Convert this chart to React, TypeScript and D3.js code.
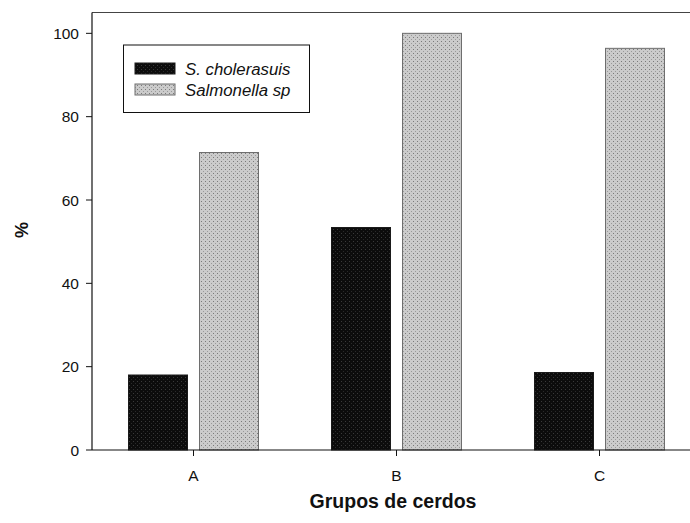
import React from "react";
import * as d3 from "d3";

// Prevalence (%) per pig group
const groups = ["A", "B", "C"];
const seriesNames = ["S. cholerasuis", "Salmonella sp"];
const cholerasuis = [18.0, 53.4, 18.6];
const salmonellaSp = [71.4, 100.0, 96.4];
const yTicks = [0, 20, 40, 60, 80, 100];

const W = 690;
const H = 523;
const left = 92;
const right = 701;
const top = 12.5;
const bottom = 450;

const seriesStyle = [
  { fill: "url(#dotDark)", stroke: "#1a1a1a" },
  { fill: "url(#dotLight)", stroke: "#6e6e6e" },
];

export default function App() {
  const x = d3.scaleBand<string>().domain(groups).range([left, right]).padding(0);
  const inner = d3
    .scaleBand<string>()
    .domain(seriesNames)
    .range([-65, 65])
    .paddingInner(12 / 71)
    .paddingOuter(0);
  const y = d3.scaleLinear().domain([0, 105]).range([bottom, top]);

  const values = [cholerasuis, salmonellaSp];
  const font = "Arial, 'Liberation Sans', sans-serif";

  return (
    <svg
      width={W}
      height={H}
      style={{ position: "absolute", left: 0, top: 0, background: "#fff" }}
      fontFamily={font}
    >
      <defs>
        <pattern id="dotDark" width="4" height="4" patternUnits="userSpaceOnUse">
          <rect width="4" height="4" fill="#0c0c0c" />
          <rect x="1" y="1" width="1" height="1" fill="#3a3a3a" />
          <rect x="3" y="3" width="1" height="1" fill="#2a2a2a" />
        </pattern>
        <pattern id="dotLight" width="4" height="4" patternUnits="userSpaceOnUse">
          <rect width="4" height="4" fill="#cbcbcb" />
          <rect x="1" y="1" width="1" height="1" fill="#7a7a7a" />
          <rect x="3" y="3" width="1" height="1" fill="#9a9a9a" />
        </pattern>
      </defs>

      {/* bars */}
      {groups.map((g, gi) => {
        const cx = (x(g) as number) + x.bandwidth() / 2;
        return seriesNames.map((s, si) => {
          const v = values[si][gi];
          const bx = cx + (inner(s) as number);
          return (
            <rect
              key={g + s}
              x={bx}
              y={y(v)}
              width={inner.bandwidth()}
              height={y(0) - y(v)}
              fill={seriesStyle[si].fill}
              stroke={seriesStyle[si].stroke}
              strokeWidth={1}
            />
          );
        });
      })}

      {/* frame: left, top, bottom */}
      <line x1={left} x2={right} y1={top} y2={top} stroke="#444" strokeWidth={1.2} />
      <line x1={left} x2={right} y1={bottom} y2={bottom} stroke="#111" strokeWidth={1.2} />
      <line x1={left} x2={left} y1={top} y2={bottom} stroke="#111" strokeWidth={1.2} />

      {/* y axis */}
      {yTicks.map((t) => (
        <g key={t}>
          <line x1={left - 6} x2={left} y1={y(t)} y2={y(t)} stroke="#111" strokeWidth={1} />
          <text x={left - 13} y={y(t)} dy="0.36em" textAnchor="end" fontSize={15.5} fill="#111">
            {t}
          </text>
        </g>
      ))}

      {/* x axis */}
      {groups.map((g) => {
        const cx = (x(g) as number) + x.bandwidth() / 2;
        return (
          <g key={g}>
            <line x1={cx} x2={cx} y1={bottom} y2={bottom + 6} stroke="#111" strokeWidth={1} />
            <text x={cx} y={481} textAnchor="middle" fontSize={15.5} fill="#111">
              {g}
            </text>
          </g>
        );
      })}

      {/* axis titles */}
      <text x={393} y={508} textAnchor="middle" fontSize={19.5} fontWeight="bold" fill="#111">
        Grupos de cerdos
      </text>
      <text
        transform="translate(28,230) rotate(-90)"
        textAnchor="middle"
        fontSize={18}
        fontWeight="bold"
        fill="#111"
      >
        %
      </text>

      {/* legend */}
      <rect x={123.5} y={45} width={186} height={67.5} fill="#fff" stroke="#111" strokeWidth={1} />
      {seriesNames.map((s, si) => (
        <g key={s}>
          <rect
            x={135}
            y={63 + si * 21}
            width={40}
            height={11}
            fill={seriesStyle[si].fill}
            stroke={seriesStyle[si].stroke}
            strokeWidth={1}
          />
          <text x={185} y={74.5 + si * 21.5} fontSize={16.8} fontStyle="italic" fill="#111">
            {s}
          </text>
        </g>
      ))}
    </svg>
  );
}
